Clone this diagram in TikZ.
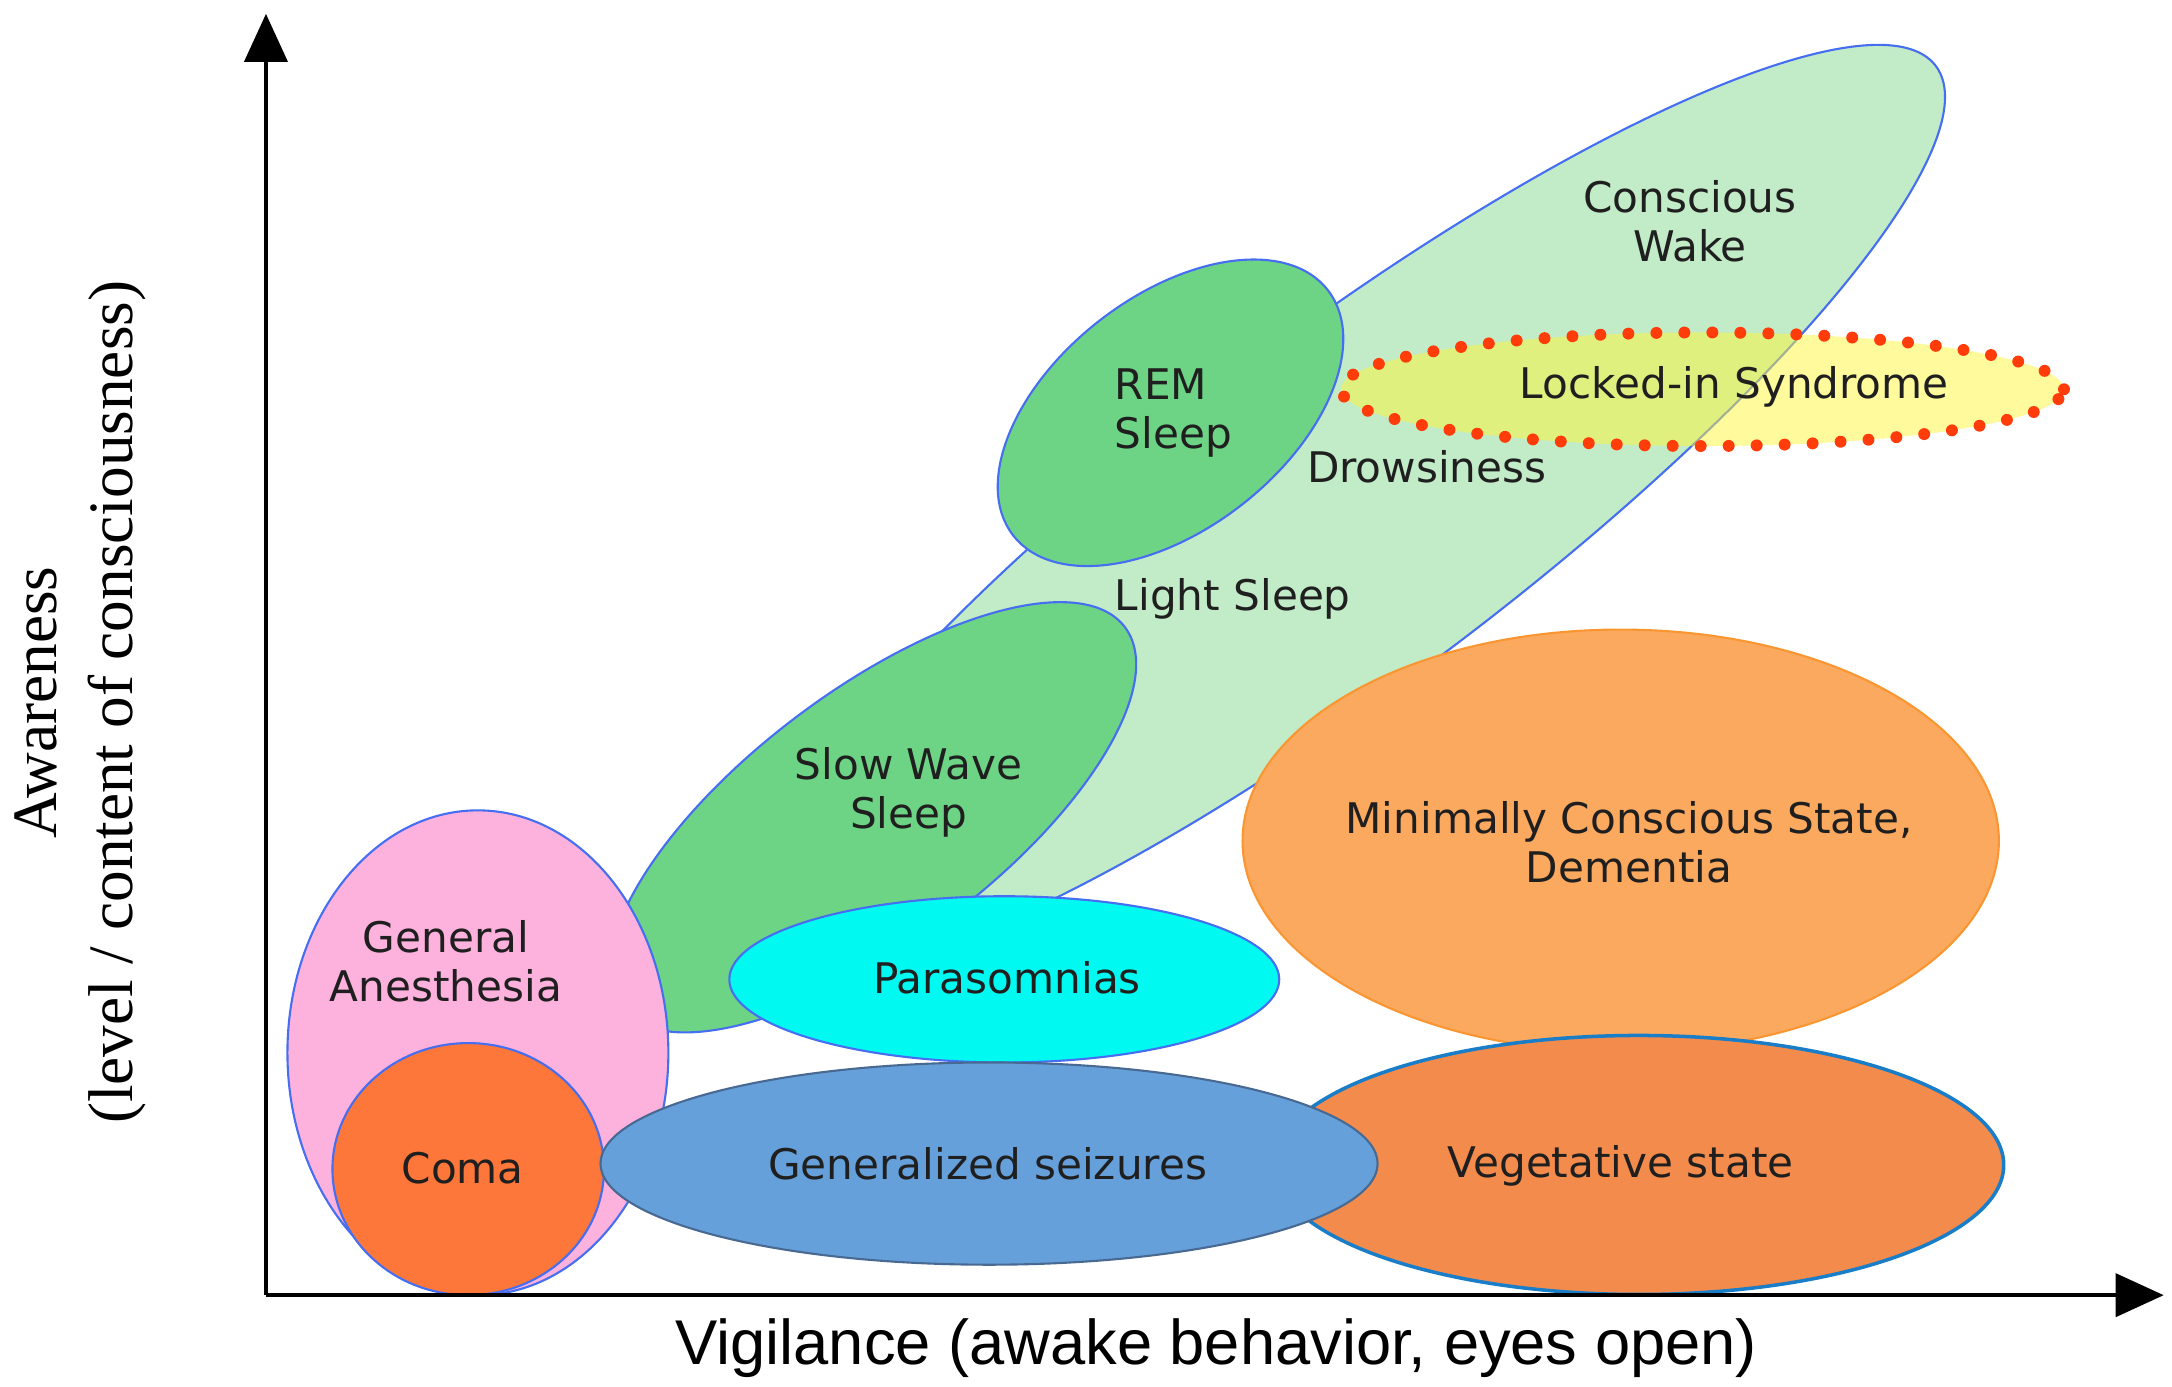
\documentclass[tikz,border=0pt]{standalone}
\usepackage{fontspec}
\setmainfont{DejaVu Sans}
\newfontfamily\xlabelfont{Liberation Sans}
\newfontfamily\ylabelfont{Liberation Serif}
\usetikzlibrary{shapes.geometric,arrows.meta}

\definecolor{wakegreen}{RGB}{194,235,199}
\definecolor{sleepgreen}{RGB}{110,212,133}
\definecolor{zoneblue}{RGB}{70,110,240}
\definecolor{anespink}{RGB}{253,178,222}
\definecolor{comaorange}{RGB}{253,118,58}
\definecolor{paracyan}{RGB}{0,250,242}
\definecolor{seizblue}{RGB}{102,160,219}
\definecolor{seizedge}{RGB}{72,105,145}
\definecolor{mcsorange}{RGB}{251,169,95}
\definecolor{mcsedge}{RGB}{250,150,50}
\definecolor{vegorange}{RGB}{242,139,76}
\definecolor{vegedge}{RGB}{25,125,200}
\definecolor{lockyellow}{RGB}{255,245,57}
\definecolor{lockdot}{RGB}{255,60,10}

\begin{document}
\begin{tikzpicture}[x=0.013852cm, y=-0.013852cm]
    \def\px{0.013852cm}
    \tikzset{
        zone/.style={ellipse, draw=zoneblue, line width=0.6pt, inner sep=0pt},
        lbl/.style={font=\fontsize{12}{14}\selectfont, text=black!88, align=center},
        axis/.style={line width=1.1pt, -{Triangle[length=0.48cm,width=0.43cm]}}
    }
    \useasboundingbox (0,0) rectangle (1568,1001);

    % sleep / wake band
    \node[zone, fill=wakegreen, minimum width=1068*\px, minimum height=250*\px, rotate=37] (wake) at (971,369) {};
    \node[zone, fill=sleepgreen, minimum width=288*\px, minimum height=168*\px, rotate=38] (rem) at (845,298) {};
    \node[zone, fill=sleepgreen, minimum width=456*\px, minimum height=182*\px, rotate=37] (slow) at (630,590) {};

    % lower states
    \node[zone, fill=anespink, minimum width=275*\px, minimum height=350*\px] (anes) at (345,760) {};
    \node[zone, fill=comaorange, minimum width=196*\px, minimum height=182*\px] (coma) at (338,844) {};
    \node[zone, fill=paracyan, minimum width=397*\px, minimum height=120*\px] (para) at (725,707) {};
    \node[zone, fill=mcsorange, draw=mcsedge, minimum width=546*\px, minimum height=305*\px] (mcs) at (1170,607) {};
    \node[zone, fill=vegorange, draw=vegedge, line width=1pt, minimum width=527*\px, minimum height=187*\px] (veg) at (1183,841) {};
    \node[zone, fill=seizblue, draw=seizedge, minimum width=561*\px, minimum height=146*\px] (seiz) at (714,840) {};

    \node[ellipse, inner sep=0pt, draw=lockdot, fill=lockyellow, fill opacity=0.5, line width=3.4pt, line cap=round,
          dash pattern=on 0pt off 0.28cm, minimum width=522*\px, minimum height=82*\px] (locked) at (1229,281) {};

    % labels
    \node[lbl] (wakelbl) at (1220,160) {Conscious\\Wake};
    \node[lbl] (lockedlbl) at (1252,279) {Locked-in Syndrome};
    \node[lbl, align=left] (remlbl) at (847,298) {REM\\Sleep};
    \node[lbl] (drowsylbl) at (1030,337) {Drowsiness};
    \node[lbl] (lightlbl) at (890,432) {Light Sleep};
    \node[lbl] (slowlbl) at (656,572) {Slow Wave\\Sleep};
    \node[lbl] (aneslbl) at (322,694) {General\\Anesthesia};
    \node[lbl] (comalbl) at (334,843) {Coma};
    \node[lbl] (paralbl) at (727,706) {Parasomnias};
    \node[lbl] (seizlbl) at (713,840) {Generalized seizures};
    \node[lbl] (mcslbl) at (1176,608) {Minimally Conscious State,\\Dementia};
    \node[lbl] (veglbl) at (1170,842) {Vegetative state};

    % axes
    \coordinate (origin) at (192,935);
    \coordinate (ytip) at (192,10);
    \coordinate (xtip) at (1562,935);
    \draw[axis] (origin) -- (ytip);
    \draw[axis] (origin) -- (xtip);
    \node[rotate=90, align=center, font=\ylabelfont\fontsize{18}{21.6}\selectfont] (ylab) at (58,507)
        {Awareness\\(level / content of consciousness)};
    \node[font=\xlabelfont\fontsize{18}{21.6}\selectfont] (xlab) at (878,973)
        {Vigilance (awake behavior, eyes open)};
\end{tikzpicture}
\end{document}
